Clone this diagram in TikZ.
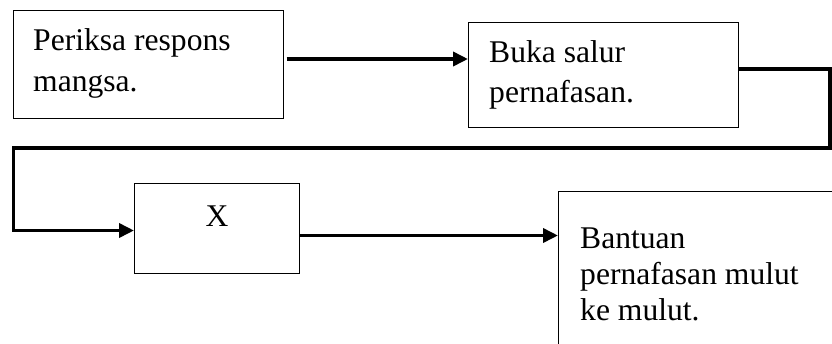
\documentclass[tikz,border=0pt]{standalone}
\usepackage{fontspec}
\setmainfont{Liberation Serif}
\usetikzlibrary{arrows.meta}

\tikzset{
  box/.style={draw, line width=1.3pt, rectangle, inner sep=0pt, anchor=north west},
  conn/.style={line width=3.6pt},
  flow/.style={conn, -{Triangle[length=15pt,width=14pt]}},
  txt/.style={inner sep=0pt, anchor=base west, font=\fontsize{31.6}{40}\selectfont}
}

\begin{document}
\begin{tikzpicture}[x=1pt, y=-1pt]
  \useasboundingbox (0,0) rectangle (832,343);
  \clip (0,0) rectangle (832,343);

  % boxes of the procedure
  \node[box, minimum width=270pt, minimum height=108pt] (b1) at (13,10) {};
  \node[box, minimum width=270pt, minimum height=105pt] (b2) at (468,22) {};
  \node[box, minimum width=165pt, minimum height=90pt]  (b3) at (134,183) {};
  \node[box, minimum width=340pt, minimum height=220pt] (b4) at (558,191) {};

  % texts inside the boxes
  \node[txt] (t1) at (33,50)
    {\vtop{\baselineskip=41pt\hbox{Periksa respons}\hbox{mangsa.}}};
  \node[txt] (t2) at (489,62)
    {\vtop{\baselineskip=40pt\hbox{Buka salur}\hbox{pernafasan.}}};
  \node[txt, anchor=base] (t3) at (217,226) {X};
  \node[txt] (t4) at (580,248)
    {\vtop{\baselineskip=36pt\hbox{Bantuan}\hbox{pernafasan mulut}\hbox{ke mulut.}}};

  % connector points
  \coordinate (s1) at (286.5,59);
  \coordinate (s2) at (738,69);
  \coordinate (r1) at (830,69);
  \coordinate (r2) at (830,148);
  \coordinate (l1) at (13.5,148);
  \coordinate (l2) at (13.5,230.5);
  \coordinate (s3) at (299,235.5);

  % connectors
  \draw[flow] (s1) -- (b2.west |- s1);
  \draw[flow] (s2) -- (r1) -- (r2) -- (l1) -- (l2) -- (b3.west |- l2);
  \draw[flow] (s3) -- (b4.west |- s3);
\end{tikzpicture}
\end{document}
